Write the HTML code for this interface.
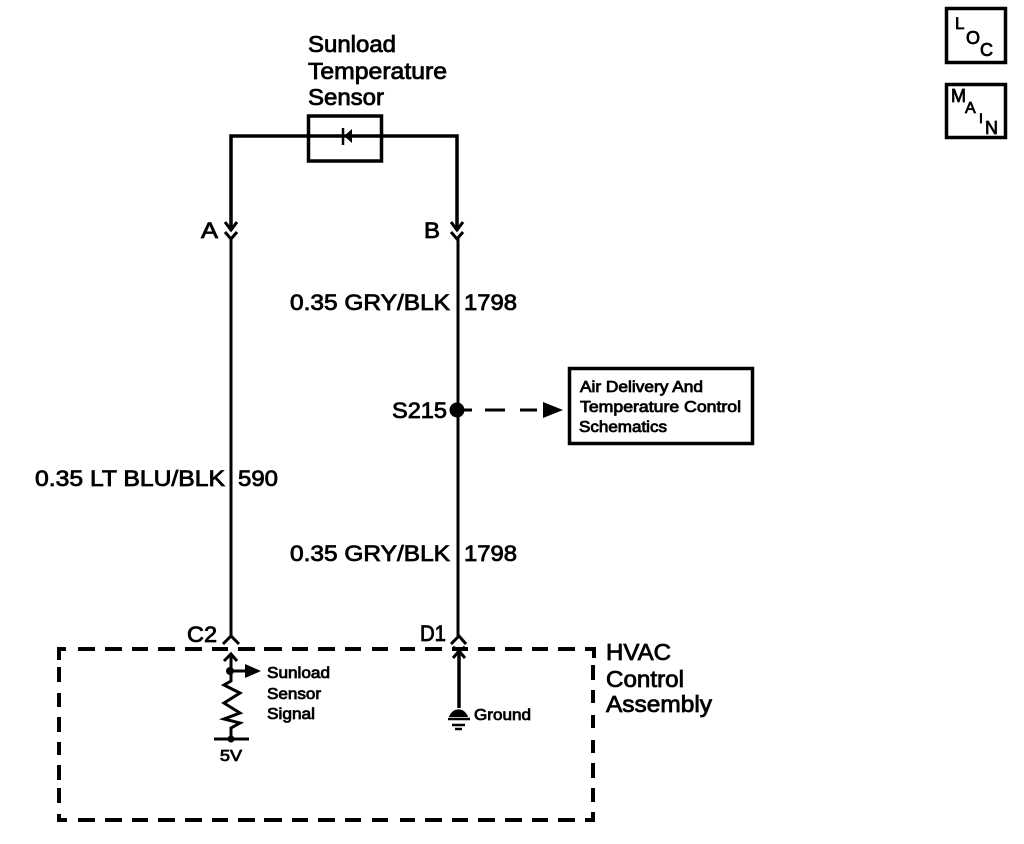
<!DOCTYPE html>
<html><head><meta charset="utf-8"><style>
html,body{margin:0;padding:0;background:#fff}
svg{display:block}
text{font-family:"Liberation Sans",sans-serif;fill:#000;stroke:#000;stroke-width:.8}
</style></head><body>
<svg width="1024" height="844" viewBox="0 0 1024 844" xmlns="http://www.w3.org/2000/svg">
<g fill="none" stroke="#000" stroke-width="3">
<!-- sensor -->
<rect x="308.500" y="116" width="73" height="45" stroke-width="3.500"/>
<path d="M231 229V136H457V229" stroke-width="3.500"/>
<path d="M231 238V636"/>
<path d="M458 238V636"/>
<!-- connectors A,B -->
<path d="M225 222L231 230L237 222M225 232L231 239L237 232" stroke-width="3"/>
<path d="M451 222L457 230L463 222M451 232L457 239L463 232" stroke-width="3"/>
<!-- C2,D1 -->
<path d="M223 644L231 636L239 644M224 661L231 654L237 661" stroke-width="3"/>
<path d="M451 644L459 636L466 644M453 658L459 651L465 658" stroke-width="3"/>
<path d="M453 647L459 651L465 647" stroke-width="3"/>
<!-- wires in module -->
<path d="M231 654V681L224 685L240 693L224 703L240 713L224 719L240 723L231 728V739" stroke-width="3"/>
<path d="M214 739H249" stroke-width="3"/>
<path d="M231 671H248" stroke-width="3"/>
<path d="M459 652V708" stroke-width="3.500"/>
<path d="M448 719H470M452 725H465M455 729H462" stroke-width="2.500"/>
<!-- dashed module -->
<path d="M59 660V649H66M78 649H95M105 649H122M132 649H148M158 649H175M185 649H202M212 649H228M238 649H255M264 649H282M292 649H308M318 649H335M345 649H361M372 649H388M400 649H415M425 649H442M452 649H468M478 649H495M505 649H522M532 649H548M558 649H575M585 649H594V658" stroke-width="4"/>
<path d="M593 665V680M593 690V703M593 715V728M593 740V753M593 763V778M593 788V802M593 812V820H585M575 820H558M548 820H532M522 820H505M495 820H478M468 820H452M442 820H425M415 820H400M388 820H372M361 820H345M335 820H318M308 820H292M282 820H264M255 820H238M228 820H212M202 820H185M175 820H158M148 820H132M122 820H105M95 820H78M67 820H59V814" stroke-width="4"/>
<path d="M59 667V682M59 693V707M59 717V732M59 742V755M59 765V780M59 788V803" stroke-width="4"/>
<!-- dashed to box -->
<path d="M457 410H472M485 410H505M520 410H537" stroke-width="3"/>
<!-- boxes -->
<rect x="569.500" y="368.500" width="183" height="75" stroke-width="3.500"/>
<rect x="946.500" y="8.500" width="59" height="54" stroke-width="3.500"/>
<rect x="946.500" y="84.500" width="59" height="53" stroke-width="3.500"/>
<!-- diode -->
<path d="M343 128V145" stroke-width="2.500"/>
</g>
<path d="M352 129L344 136L352 143Z"/>
<circle cx="457" cy="410" r="7.500"/>
<circle cx="230" cy="671" r="4"/>
<circle cx="231" cy="739" r="3.500"/>
<path d="M563 410L543 402V418Z"/>
<path d="M261 671L245 664V678Z"/>
<path d="M449 717A10 11 0 0 1 468 717Z"/>
<text x="308" y="52" font-size="23" textLength="88" lengthAdjust="spacingAndGlyphs">Sunload</text>
<text x="308" y="79" font-size="23" textLength="139" lengthAdjust="spacingAndGlyphs">Temperature</text>
<text x="308" y="105" font-size="23" textLength="76" lengthAdjust="spacingAndGlyphs">Sensor</text>
<text x="201" y="238" font-size="22" textLength="17" lengthAdjust="spacingAndGlyphs" stroke-width="1.200">A</text>
<text x="424" y="238" font-size="22" textLength="16" lengthAdjust="spacingAndGlyphs" stroke-width="1.200">B</text>
<text x="290" y="310" font-size="22" textLength="160" lengthAdjust="spacingAndGlyphs">0.35 GRY/BLK</text>
<text x="464" y="310" font-size="22" textLength="53" lengthAdjust="spacingAndGlyphs">1798</text>
<text x="392" y="418" font-size="22" textLength="55" lengthAdjust="spacingAndGlyphs">S215</text>
<text x="35" y="486" font-size="22" textLength="190" lengthAdjust="spacingAndGlyphs">0.35 LT BLU/BLK</text>
<text x="238" y="486" font-size="22" textLength="40" lengthAdjust="spacingAndGlyphs">590</text>
<text x="290" y="561" font-size="22" textLength="160" lengthAdjust="spacingAndGlyphs">0.35 GRY/BLK</text>
<text x="464" y="561" font-size="22" textLength="53" lengthAdjust="spacingAndGlyphs">1798</text>
<text x="187" y="642" font-size="22" textLength="30" lengthAdjust="spacingAndGlyphs">C2</text>
<text x="420" y="641" font-size="22" textLength="26" lengthAdjust="spacingAndGlyphs">D1</text>
<text x="606" y="660" font-size="23" textLength="65" lengthAdjust="spacingAndGlyphs">HVAC</text>
<text x="606" y="687" font-size="23" textLength="78" lengthAdjust="spacingAndGlyphs">Control</text>
<text x="606" y="712" font-size="23" textLength="106" lengthAdjust="spacingAndGlyphs">Assembly</text>
<text x="267" y="678" font-size="16" textLength="63" lengthAdjust="spacingAndGlyphs">Sunload</text>
<text x="267" y="699" font-size="16" textLength="54" lengthAdjust="spacingAndGlyphs">Sensor</text>
<text x="267" y="719" font-size="16" textLength="48" lengthAdjust="spacingAndGlyphs">Signal</text>
<text x="220" y="761" font-size="16" textLength="22" lengthAdjust="spacingAndGlyphs">5V</text>
<text x="474" y="720" font-size="16" textLength="57" lengthAdjust="spacingAndGlyphs">Ground</text>
<text x="580" y="392" font-size="16" textLength="123" lengthAdjust="spacingAndGlyphs">Air Delivery And</text>
<text x="580" y="412" font-size="16" textLength="161" lengthAdjust="spacingAndGlyphs">Temperature Control</text>
<text x="579" y="432" font-size="16" textLength="88" lengthAdjust="spacingAndGlyphs">Schematics</text>
<text x="955" y="29" font-size="17">L</text>
<text x="966" y="44" font-size="18" stroke-width="1.200">O</text>
<text x="980" y="56" font-size="18" stroke-width="1.200">C</text>
<text x="951" y="102" font-size="18" stroke-width="1.200">M</text>
<text x="965" y="113" font-size="16" stroke-width="1">A</text>
<text x="979" y="123" font-size="14">I</text>
<text x="985" y="134" font-size="18" stroke-width="1.200">N</text>
</svg>
</body></html>
